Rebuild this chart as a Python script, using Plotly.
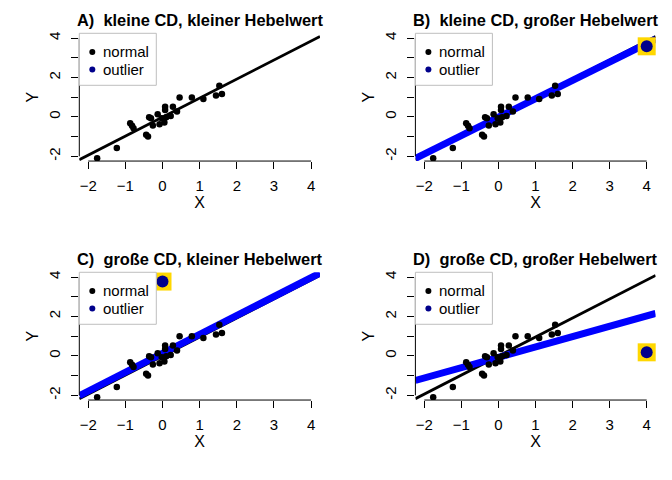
import numpy as np
import plotly.graph_objects as go
from plotly.subplots import make_subplots

# normal points (same in all four panels)
x_norm = [-1.76, -1.23, -0.87, -0.82, -0.78, -0.44, -0.39, -0.36, -0.31, -0.26, -0.13, -0.08, -0.02,
          0.05, 0.07, 0.07, 0.10, 0.22, 0.28, 0.39, 0.46, 0.79, 1.10, 1.44, 1.53, 1.60]
y_norm = [-2.10, -1.58, -0.32, -0.45, -0.57, -0.91, -1.00, -0.02, -0.07, -0.44, 0.13, -0.37, -0.07,
          -0.29, 0.35, 0.52, -0.02, 0.05, 0.52, 0.27, 0.99, 0.99, 0.91, 1.08, 1.58, 1.16]

# one outlier per panel (panel A has none)
panel_titles = ['A)  kleine CD, kleiner Hebelwert', 'B)  kleine CD, großer Hebelwert',
                'C)  große CD, kleiner Hebelwert', 'D)  große CD, großer Hebelwert']
outlier_x = [None, 4.0, 0.0, 4.0]
outlier_y = [None, 3.58, 3.77, 0.18]

x_ticks = [-2, -1, 0, 1, 2, 3, 4]
y_ticks = [-2, -1, 0, 1, 2, 3, 4]
y_ticktext = ['-2', '', '0', '', '2', '', '4']
legend_labels = ['normal', 'outlier']

axis_range = [-2.24, 4.24]
# the page body has an 8px margin, so the figure is drawn 8px smaller
OFF = 8
W, H = 672 - OFF, 480 - OFF
FONT = 'Liberation Sans'
NAVY = '#00008B'
GOLD = '#FFD700'

fig = make_subplots(rows=2, cols=2)

x_dom = [[(79.3 - OFF) / W, (320 - OFF) / W], [(415.4 - OFF) / W, (655.6 - OFF) / W]]
y_dom = [[1 - (159.7 - OFF) / H, 1 - (31.4 - OFF) / H], [1 - (399.7 - OFF) / H, 1 - (271.4 - OFF) / H]]

fit_black = np.polyfit(x_norm, y_norm, 1)

for i in range(4):
    row, col = i // 2 + 1, i % 2 + 1
    sfx = '' if i == 0 else str(i + 1)
    xr, yr = 'x' + sfx, 'y' + sfx

    # regression line of the normal points
    xs = np.array(axis_range)
    fig.add_trace(go.Scatter(x=xs, y=np.polyval(fit_black, xs), mode='lines',
                             line=dict(color='black', width=2.8), showlegend=False), row=row, col=col)
    # regression line including the outlier
    if outlier_x[i] is not None:
        fit_all = np.polyfit(x_norm + [outlier_x[i]], y_norm + [outlier_y[i]], 1)
        fig.add_trace(go.Scatter(x=xs, y=np.polyval(fit_all, xs), mode='lines',
                                 line=dict(color='blue', width=7), showlegend=False), row=row, col=col)

    fig.add_trace(go.Scatter(x=x_norm, y=y_norm, mode='markers',
                             marker=dict(color='black', size=6.5), showlegend=False), row=row, col=col)

    if outlier_x[i] is not None:
        fig.add_trace(go.Scatter(x=[outlier_x[i]], y=[outlier_y[i]], mode='markers', cliponaxis=False,
                                 marker=dict(symbol='square', color=GOLD, size=18), showlegend=False),
                      row=row, col=col)
        fig.add_trace(go.Scatter(x=[outlier_x[i]], y=[outlier_y[i]], mode='markers', cliponaxis=False,
                                 marker=dict(color=NAVY, size=12), showlegend=False), row=row, col=col)

    fig.update_xaxes(domain=x_dom[col - 1], range=axis_range, tickvals=x_ticks, ticks='outside',
                     ticklen=7, tickcolor='black', showgrid=False, zeroline=False, showline=False,
                     ticklabelstandoff=4, tickfont=dict(size=15, color='black', family=FONT),
                     title=dict(text='X', standoff=3, font=dict(size=16, color='black', family=FONT)),
                     row=row, col=col)
    fig.update_yaxes(domain=y_dom[row - 1], range=axis_range, tickvals=y_ticks, ticktext=y_ticktext,
                     tickangle=-90, ticks='outside', ticklen=7, tickcolor='black', showgrid=False,
                     zeroline=False, showline=False, ticklabelstandoff=5,
                     tickfont=dict(size=15, color='black', family=FONT),
                     title=dict(text='Y', standoff=3, font=dict(size=16, color='black', family=FONT)),
                     row=row, col=col)

    # R style axis lines, only between first and last tick
    fig.add_shape(type='line', xref=xr, yref=yr + ' domain', x0=x_ticks[0], x1=x_ticks[-1], y0=0, y1=0,
                  line=dict(color='black', width=1))
    fig.add_shape(type='line', xref=xr + ' domain', yref=yr, x0=0, x1=0, y0=y_ticks[0], y1=y_ticks[-1],
                  line=dict(color='black', width=1))

    # panel title
    fig.add_annotation(text='<b>' + panel_titles[i] + '</b>', xref=xr + ' domain', yref=yr + ' domain',
                       x=0.5, y=1, yshift=13, yanchor='middle', showarrow=False,
                       font=dict(size=16.4, color='black', family=FONT))

    # legend box top left
    fig.add_shape(type='rect', xref=xr + ' domain', yref=yr + ' domain', xsizemode='pixel',
                  ysizemode='pixel', xanchor=0, yanchor=1, x0=0, x1=77, y0=-52, y1=0,
                  line=dict(color='#BEBEBE', width=1), fillcolor='white')
    for k, lab in enumerate(legend_labels):
        cy = -18.6 - 17.7 * k
        fig.add_shape(type='circle', xref=xr + ' domain', yref=yr + ' domain', xsizemode='pixel',
                      ysizemode='pixel', xanchor=0, yanchor=1, x0=10, x1=16, y0=cy - 3, y1=cy + 3,
                      line=dict(width=0), fillcolor='black' if k == 0 else NAVY)
        fig.add_annotation(text=lab, xref=xr + ' domain', yref=yr + ' domain', x=0, y=1,
                           xshift=22, yshift=cy, xanchor='left', yanchor='middle', showarrow=False,
                           font=dict(size=15, color='black', family=FONT))

fig.update_layout(width=W, height=H, margin=dict(l=0, r=0, t=0, b=0),
                  plot_bgcolor='white', paper_bgcolor='white', showlegend=False,
                  font=dict(family=FONT, color='black'))

fig.write_html("out.html")
